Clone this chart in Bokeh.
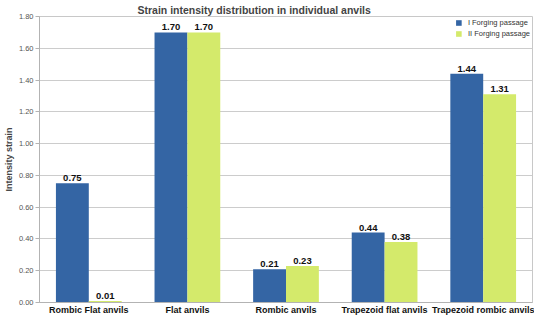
from bokeh.plotting import figure
from bokeh.models import ColumnDataSource, FactorRange, Range1d, Legend, LegendItem, NumeralTickFormatter, SingleIntervalTicker, Label
from bokeh.transform import dodge
from bokeh.core.properties import value
from bokeh.embed import file_html
from bokeh.resources import INLINE

categories = ["Rombic Flat anvils", "Flat anvils", "Rombic anvils", "Trapezoid flat anvils", "Trapezoid rombic anvils"]
pass1 = [0.75, 1.70, 0.21, 0.44, 1.44]
pass2 = [0.01, 1.70, 0.23, 0.38, 1.31]
series_names = ["I Forging passage", "II Forging passage"]

BLUE = "#3465A4"
GREEN = "#D4EA6B"
FONT = "Liberation Sans"

src = ColumnDataSource(dict(
    cat=categories, p1=pass1, p2=pass2,
    l1=["%.2f" % v for v in pass1], l2=["%.2f" % v for v in pass2],
))

p = figure(x_range=FactorRange(*categories, range_padding=0), y_range=Range1d(0, 1.8),
           width=534, height=317, output_backend="svg", toolbar_location=None,
           min_border_left=0, min_border_right=2, min_border_top=0, min_border_bottom=11)

r1 = p.vbar(x=dodge("cat", -1/6, range=p.x_range), top="p1", width=1/3, source=src,
            fill_color=BLUE, line_color=None)
r2 = p.vbar(x=dodge("cat", 1/6, range=p.x_range), top="p2", width=1/3, source=src,
            fill_color=GREEN, line_color=None)

for col, lab, off in (("p1", "l1", -1/6), ("p2", "l2", 1/6)):
    p.text(x=dodge("cat", off, range=p.x_range), y=col, text=lab, source=src,
           text_align="center", text_baseline="bottom", y_offset=-2,
           text_font=value(FONT), text_font_style="bold", text_font_size="9.5px",
           text_color="#111111")

p.title.text = "Strain intensity distribution in individual anvils"
p.title.text_font = FONT
p.title.text_font_size = "10.5px"
p.title.text_font_style = "bold"
p.title.align = "left"
p.title.offset = 98
p.title.standoff = 2

p.xgrid.grid_line_color = None
p.ygrid.grid_line_color = "#cccccc"
p.ygrid.ticker = SingleIntervalTicker(interval=0.2)
p.outline_line_color = "#c8c8c8"

p.yaxis.ticker = SingleIntervalTicker(interval=0.2)
p.yaxis.formatter = NumeralTickFormatter(format="0.00")
p.yaxis.axis_label = "Intensity strain"
p.yaxis.axis_label_text_font = FONT
p.yaxis.axis_label_text_font_style = "bold"
p.yaxis.axis_label_text_font_size = "9px"
p.yaxis.axis_label_standoff = 2
p.yaxis.major_label_text_font = FONT
p.yaxis.major_label_text_font_size = "7.5px"
p.yaxis.major_label_text_color = "#555555"
p.yaxis.major_label_standoff = 2
p.yaxis.axis_line_color = "#b3b3b3"
p.yaxis.major_tick_line_color = "#b3b3b3"
p.yaxis.major_tick_out = 4
p.yaxis.major_tick_in = 0
p.yaxis.minor_tick_line_color = None

p.xaxis.major_label_text_font = FONT
p.xaxis.major_label_text_font_style = "bold"
p.xaxis.major_label_text_font_size = "9px"
p.xaxis.major_label_text_color = "#111111"
p.xaxis.major_label_standoff = 2
p.xaxis.axis_line_color = "#b3b3b3"
p.xaxis.major_tick_line_color = None
p.xaxis.major_tick_out = 0
p.xaxis.major_tick_in = 0

xtitle = Label(text="The shape of the anvils", x=252, y=-21, x_units="screen", y_units="screen",
               text_align="center", text_baseline="bottom", text_font=FONT,
               text_font_style="bold", text_font_size="9px", text_color="#111111")
p.add_layout(xtitle)

legend = Legend(items=[LegendItem(label=series_names[0], renderers=[r1]),
                       LegendItem(label=series_names[1], renderers=[r2])],
                location="top_right", border_line_color=None, background_fill_alpha=0,
                label_text_font=FONT, label_text_font_size="7.5px", label_text_color="#333333",
                glyph_width=7, glyph_height=7, spacing=2, padding=4, margin=2,
                label_height=9, label_standoff=6)
p.add_layout(legend)

open("out.html", "w").write(file_html(p, INLINE))
